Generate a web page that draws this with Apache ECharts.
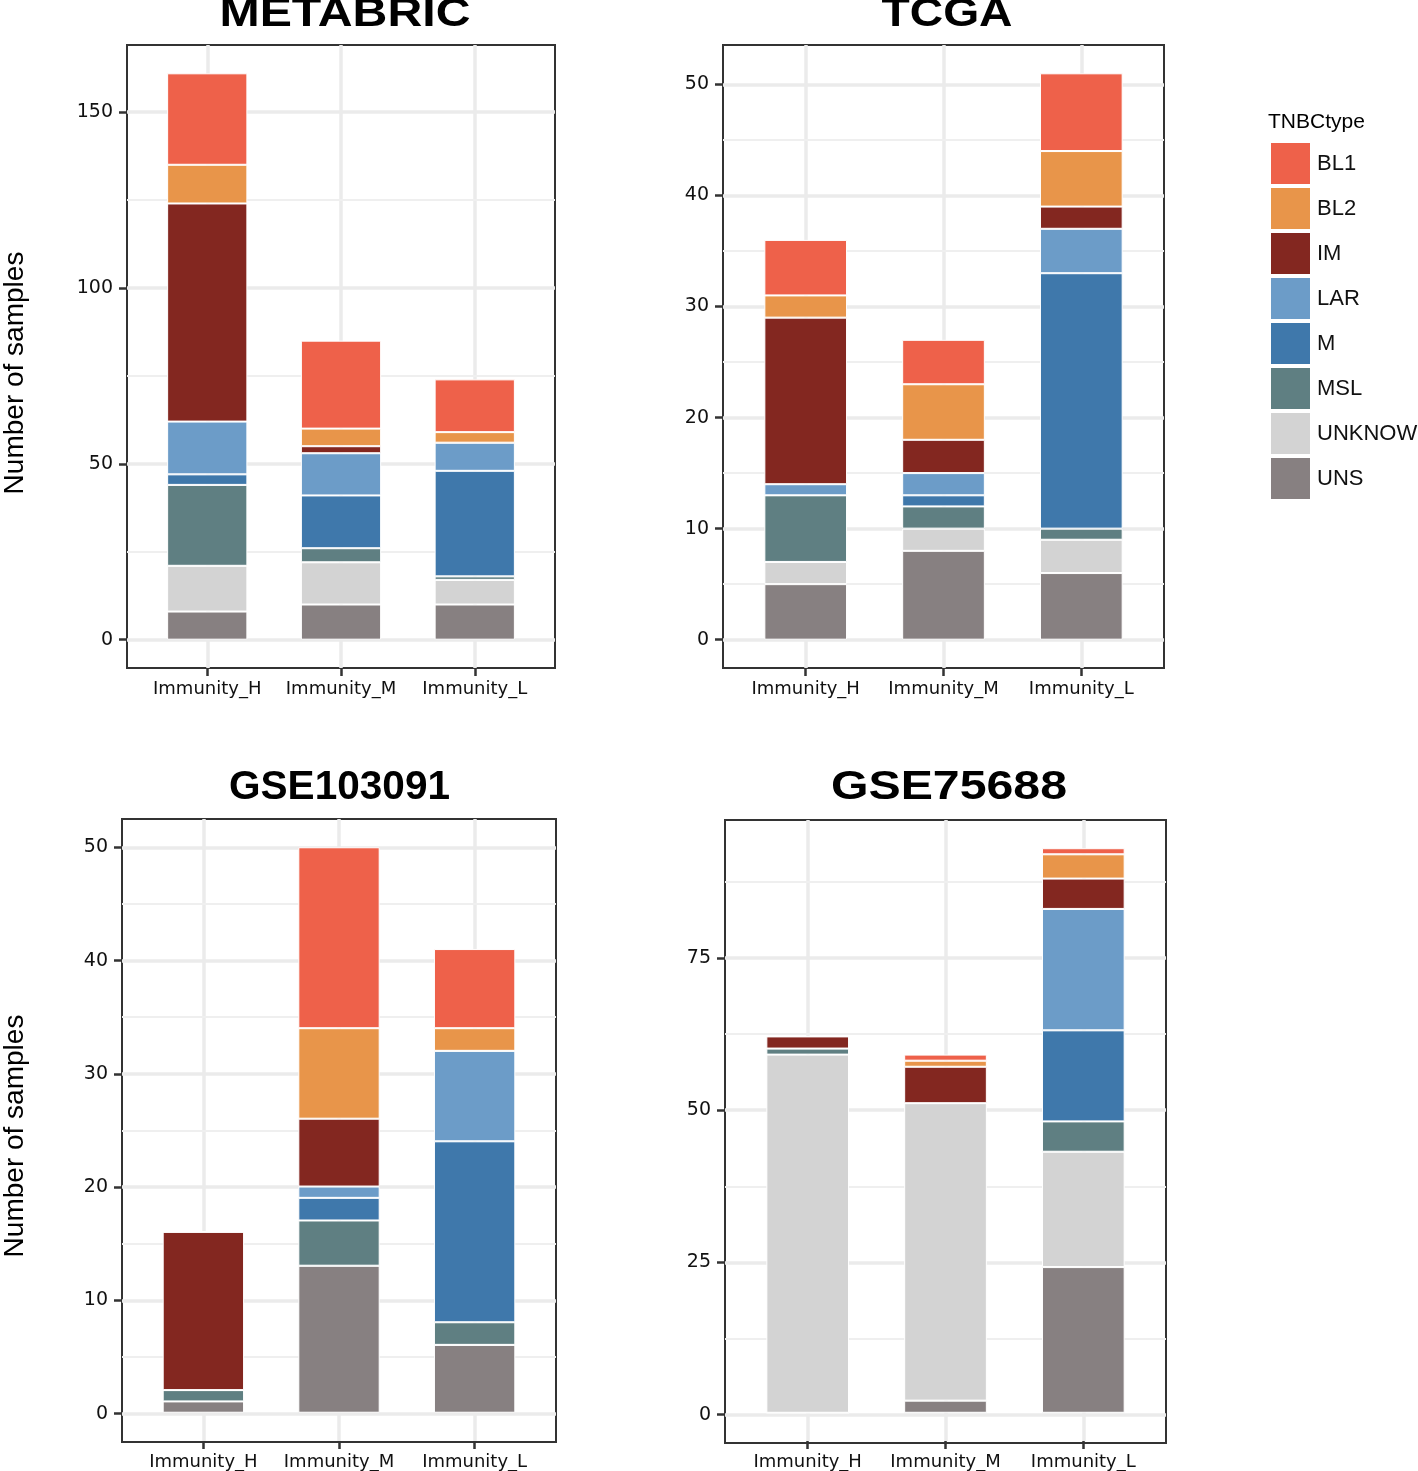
<!DOCTYPE html>
<html><head><meta charset="utf-8">
<script src="https://cdn.jsdelivr.net/npm/echarts@6/dist/echarts.min.js"></script>
<style>html,body{margin:0;padding:0;background:#fff}#c{width:1418px;height:1471px}</style>
</head><body><div id="c"></div>
<script>
// ---------- DATA ----------
const categories = ['Immunity_H', 'Immunity_M', 'Immunity_L'];
const tnbcTypes = ['BL1', 'BL2', 'IM', 'LAR', 'M', 'MSL', 'UNKNOW', 'UNS'];
const panelTitles = ['METABRIC', 'TCGA', 'GSE103091', 'GSE75688'];
const legendTitle = 'TNBCtype';
const yAxisTitle = 'Number of samples';

// rows follow tnbcTypes order, columns follow categories order
const metabricCounts = [
  [26, 25, 15],  // BL1
  [11, 5, 3],    // BL2
  [62, 2, 0],    // IM
  [15, 12, 8],   // LAR
  [3, 15, 30],   // M
  [23, 4, 1],    // MSL
  [13, 12, 7],   // UNKNOW
  [8, 10, 10]    // UNS
];
const tcgaCounts = [
  [5, 4, 7],
  [2, 5, 5],
  [15, 3, 2],
  [1, 2, 4],
  [0, 1, 23],
  [6, 2, 1],
  [2, 2, 3],
  [5, 8, 6]
];
const gse103091Counts = [
  [0, 16, 7],
  [0, 8, 2],
  [14, 6, 0],
  [0, 1, 8],
  [0, 2, 16],
  [1, 4, 2],
  [0, 0, 0],
  [1, 13, 6]
];
const gse75688Counts = [
  [0, 1, 1],
  [0, 1, 4],
  [2, 6, 5],
  [0, 0, 20],
  [0, 0, 15],
  [1, 0, 5],
  [59, 49, 19],
  [0, 2, 24]
];

const metabricTicks = [0, 50, 100, 150];
const metabricMinor = [25, 75, 125];
const tcgaTicks = [0, 10, 20, 30, 40, 50];
const tcgaMinor = [5, 15, 25, 35, 45];
const gse103091Ticks = [0, 10, 20, 30, 40, 50];
const gse103091Minor = [5, 15, 25, 35, 45];
const gse75688Ticks = [0, 25, 50, 75];
const gse75688Minor = [12.5, 37.5, 62.5, 87.5];

// ---------- STYLE / LAYOUT ----------
const typeColors = ['#EE614A', '#E8954A', '#832720', '#6C9CC8', '#3F78AB', '#5F7F82', '#D3D3D3', '#878081'];

const panels = [
  { title: panelTitles[0], counts: metabricCounts, ticks: metabricTicks, minor: metabricMinor,
    frame: { left: 127, top: 45, width: 428, height: 623 }, titleX: 345, titleY: 15, titleW: 251, titleFont: 'Liberation Sans', ylab: 373 },
  { title: panelTitles[1], counts: tcgaCounts, ticks: tcgaTicks, minor: tcgaMinor,
    frame: { left: 723, top: 45, width: 441, height: 623 }, titleX: 947, titleY: 15, titleW: 131, titleFont: 'Liberation Sans', ylab: null },
  { title: panelTitles[2], counts: gse103091Counts, ticks: gse103091Ticks, minor: gse103091Minor,
    frame: { left: 122, top: 819, width: 434, height: 623 }, titleX: 339.5, titleY: 788, titleW: 221, titleFont: 'Liberation Sans', ylab: 1136 },
  { title: panelTitles[3], counts: gse75688Counts, ticks: gse75688Ticks, minor: gse75688Minor,
    frame: { left: 725, top: 820, width: 441, height: 623 }, titleX: 949, titleY: 788, titleW: 236, titleFont: 'Liberation Sans', ylab: null }
];

const ctx = document.createElement('canvas').getContext('2d');
function measure(text, font) { ctx.font = font; return ctx.measureText(text).width; }

const grid = [], xAxis = [], yAxis = [], series = [], graphic = [];
const tickLine = { color: '#333', width: 2.5 };

panels.forEach((p, i) => {
  const f = p.frame;
  const u = f.width / 3.2;
  grid.push({ left: f.left, top: f.top, width: f.width, height: f.height, show: true,
    borderColor: '#333', borderWidth: 2, backgroundColor: 'transparent' });
  grid.push({ left: f.left + 0.6 * u, top: f.top, width: 2 * u, height: f.height, show: false });

  const totals = categories.map((c, j) => p.counts.reduce((s, row) => s + row[j], 0));
  const mx = Math.max(...totals);
  const ymin = -0.05 * mx, ymax = 1.05 * mx;

  xAxis.push({ type: 'value', gridIndex: 2 * i, min: 0, max: 1, show: false });
  xAxis.push({ type: 'category', gridIndex: 2 * i + 1, data: categories, boundaryGap: false,
    position: 'bottom',
    axisLine: { show: false, onZero: false },
    axisTick: { show: true, length: 8, interval: 0, lineStyle: tickLine },
    axisLabel: { interval: 0, fontFamily: 'DejaVu Sans', fontSize: 18, color: '#111', margin: 12 },
    splitLine: { show: true, interval: 0, lineStyle: { color: '#EBEBEB', width: 3.5 } } });

  yAxis.push({ type: 'value', gridIndex: 2 * i, min: ymin, max: ymax,
    axisLine: { show: false, onZero: false },
    axisTick: { show: true, length: 8, customValues: p.ticks, lineStyle: tickLine },
    axisLabel: { customValues: p.ticks, fontFamily: 'DejaVu Sans', fontSize: 19, color: '#111', margin: 14 },
    splitLine: { show: false } });
  yAxis.push({ type: 'value', gridIndex: 2 * i + 1, min: ymin, max: ymax, show: false });

  // background gridlines on the frame grid
  const mlData = [];
  p.minor.forEach(v => mlData.push({ yAxis: v, lineStyle: { color: '#EFEFEF', width: 1.8, type: 'solid' } }));
  p.ticks.forEach(v => mlData.push({ yAxis: v, lineStyle: { color: '#EBEBEB', width: 3.5, type: 'solid' } }));
  series.push({ type: 'line', name: '_grid' + i, xAxisIndex: 2 * i, yAxisIndex: 2 * i, data: [],
    silent: true, z: 1,
    markLine: { silent: true, z: 1, symbol: ['none', 'none'], label: { show: false },
      emphasis: { disabled: true }, animation: false, data: mlData } });

  // stacked bars: bottom of stack first (UNS ... BL1)
  for (let k = tnbcTypes.length - 1; k >= 0; k--) {
    series.push({ name: tnbcTypes[k], type: 'bar', xAxisIndex: 2 * i + 1, yAxisIndex: 2 * i + 1,
      stack: 'panel' + i, data: p.counts[k], barWidth: 0.6 * u, clip: false, z: 3,
      itemStyle: { color: typeColors[k], borderColor: '#ffffff', borderWidth: 1 },
      emphasis: { disabled: true } });
  }

  // panel title
  const font = 'bold 40px "' + p.titleFont + '"';
  const w = measure(p.title, font);
  graphic.push({ type: 'text', x: p.titleX, y: p.titleY, scaleX: p.titleW / w, z: 10,
    style: { text: p.title, fontFamily: p.titleFont, fontSize: 40, fontWeight: 'bold', fill: '#000',
      textAlign: 'center', textVerticalAlign: 'middle', verticalAlign: 'middle' } });

  if (p.ylab !== null) {
    graphic.push({ type: 'text', x: 15, y: p.ylab, rotation: Math.PI / 2, z: 10,
      style: { text: yAxisTitle, fontFamily: 'Liberation Sans', fontSize: 28, fill: '#000',
        textAlign: 'center', textVerticalAlign: 'middle', verticalAlign: 'middle' } });
  }
});

graphic.push({ type: 'text', x: 1268, y: 122.5, z: 10,
  style: { text: legendTitle, fontFamily: 'Liberation Sans', fontSize: 21, fill: '#000',
    textAlign: 'left', textVerticalAlign: 'middle', verticalAlign: 'middle' } });

const chart = echarts.init(document.getElementById('c'), null, { renderer: 'canvas' });
chart.setOption({
  animation: false,
  backgroundColor: '#ffffff',
  grid, xAxis, yAxis, series, graphic,
  legend: { data: tnbcTypes, left: 1269, top: 141, padding: 0, orient: 'vertical', itemWidth: 41, itemHeight: 43,
    itemGap: 0, icon: 'rect', selectedMode: false,
    textStyle: { fontFamily: 'Liberation Sans', fontSize: 22, color: '#111', padding: [0, 0, 0, 1] } },
  tooltip: { show: false }
});
</script>
</body></html>
